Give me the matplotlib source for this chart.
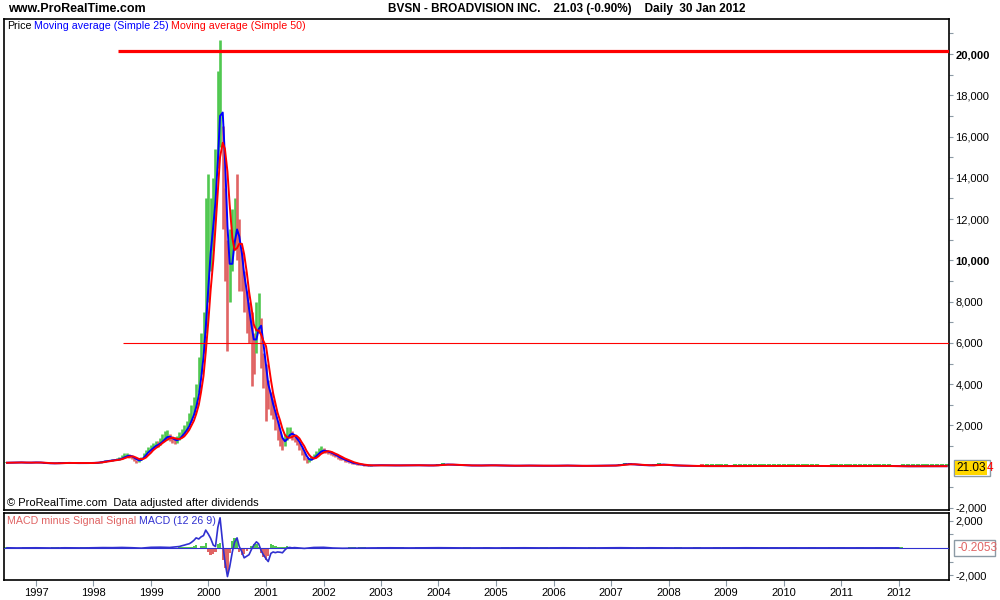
import matplotlib
matplotlib.use('Agg')
import matplotlib.pyplot as plt
import pandas as pd
import numpy as np
from matplotlib.patches import Rectangle
from matplotlib.ticker import FixedLocator, FixedFormatter

plt.rcParams['font.family'] = ['Liberation Sans', 'DejaVu Sans']

# ---------------- DATA ----------------
# monthly 1996-07 .. 1997-12
dates_96 = pd.date_range('1996-07-01', '1997-12-01', freq='MS')
close_96 = [190, 200, 210, 200, 190, 200, 210, 190, 170, 160, 165, 175, 185, 180, 170, 175, 170, 180]
high_96 = [220, 230, 240, 230, 220, 230, 240, 220, 200, 190, 195, 205, 215, 210, 200, 205, 200, 210]
low_96 = [170, 180, 185, 180, 170, 175, 185, 170, 150, 140, 145, 155, 165, 160, 150, 155, 150, 160]

# semi-monthly 1998-01 .. 2002-12
dates_98 = pd.date_range('1998-01-01', '2002-12-15', freq='SMS')
close_98 = [180, 190, 200, 230, 250, 270, 290, 300, 320, 330, 350, 380, 430, 520, 560, 500, 470, 380, 260, 300, 400, 560, 700, 800,
            900, 1000, 1100, 1050, 1200, 1350, 1450, 1500, 1400, 1300, 1250, 1300, 1450, 1600, 1750, 1900, 2200, 2500, 2800, 3300, 4200, 5200, 6500, 8500,
            11000, 11500, 12500, 14500, 17500, 19000, 15000, 11000, 9000, 9500, 11000, 12000, 11500, 10000, 9500, 8500, 7500, 7000, 6000, 5500, 7000, 7500, 6000, 4500,
            4200, 3300, 3000, 2800, 2200, 1800, 1300, 1100, 1300, 1600, 1700, 1500, 1400, 1250, 1000, 800, 500, 300, 300, 400, 500, 600, 750, 800,
            780, 720, 700, 650, 600, 520, 450, 400, 350, 300, 250, 200, 170, 140, 120, 100, 80, 70, 60, 55, 60, 70, 75, 70]
high_98 = [200, 210, 230, 260, 280, 300, 320, 340, 360, 370, 400, 450, 560, 650, 680, 600, 550, 450, 320, 380, 480, 650, 800, 950,
           1050, 1150, 1250, 1250, 1400, 1600, 1750, 1800, 1600, 1500, 1450, 1500, 1700, 1850, 2000, 2200, 2600, 3000, 3400, 4000, 5300, 6500, 7500, 13000,
           14200, 13000, 14000, 15400, 19200, 20700, 16500, 13500, 11000, 11500, 12500, 13000, 14200, 12000, 10500, 9500, 8500, 8000, 7500, 6500, 8000, 8400, 7200, 5500,
           5000, 4200, 3600, 3300, 2700, 2200, 1700, 1400, 1600, 1900, 1900, 1750, 1600, 1450, 1200, 950, 700, 450, 400, 500, 620, 750, 900, 1000,
           900, 820, 780, 740, 680, 600, 530, 470, 410, 360, 300, 250, 210, 175, 150, 125, 100, 90, 80, 75, 80, 90, 95, 90]
low_98 = [160, 170, 180, 200, 220, 240, 260, 270, 290, 300, 320, 340, 380, 450, 480, 420, 380, 280, 200, 240, 330, 450, 600, 700,
          800, 900, 950, 950, 1050, 1200, 1300, 1300, 1250, 1150, 1100, 1150, 1300, 1450, 1600, 1750, 2000, 2200, 2500, 2900, 3600, 4500, 5500, 6500,
          8000, 9500, 10500, 12000, 14500, 15500, 11500, 9000, 5600, 8000, 9500, 10500, 10000, 8500, 8500, 7500, 6500, 6000, 3900, 4500, 5500, 6500, 4800, 3800,
          2200, 2800, 2500, 2300, 1800, 1300, 1000, 800, 1000, 1300, 1450, 1300, 1200, 1050, 800, 550, 300, 200, 220, 300, 400, 480, 600, 680,
          680, 640, 620, 580, 520, 450, 390, 340, 300, 250, 210, 170, 140, 115, 100, 85, 65, 55, 48, 45, 50, 58, 62, 58]

# monthly 2003-01 .. 2012-11
dates_03 = pd.date_range('2003-01-01', '2012-11-01', freq='MS')
close_03 = [70, 65, 60, 60, 65, 70, 75, 70, 65, 60, 60, 62,
            80, 110, 100, 90, 80, 70, 60, 55, 55, 60, 65, 70,
            60, 55, 50, 45, 45, 50, 55, 50, 45, 45, 40, 42,
            45, 50, 55, 50, 45, 40, 38, 40, 42, 45, 48, 50,
            55, 60, 90, 130, 120, 100, 80, 70, 65, 70, 110, 90,
            70, 60, 50, 45, 40, 35, 30, 28, 28, 28, 29, 29,
            29, 28, 29, 30, 30, 31, 31, 32, 32, 33, 33, 34,
            34, 34, 35, 35, 35, 36, 36, 36, 30, 28, 29, 29,
            29, 30, 30, 30, 31, 31, 31, 32, 32, 32, 33, 25,
            21, 21, 22, 22, 22, 23, 23, 23, 24, 24, 24]
high_03 = [100, 95, 90, 90, 95, 100, 105, 100, 95, 90, 90, 92,
           130, 160, 140, 125, 115, 100, 90, 85, 85, 90, 95, 100,
           90, 85, 80, 75, 75, 80, 85, 80, 75, 75, 70, 72,
           75, 80, 85, 80, 75, 70, 68, 70, 72, 75, 78, 80,
           85, 95, 150, 190, 170, 140, 115, 100, 95, 110, 160, 130,
           100, 90, 80, 75, 70, 65, 60, 120, 120, 120, 120, 120,
           120, 60, 120, 120, 120, 120, 120, 120, 120, 120, 120, 120,
           120, 120, 120, 120, 120, 120, 120, 120, 60, 55, 120, 120,
           120, 120, 120, 120, 120, 120, 120, 120, 120, 120, 120, 55,
           50, 120, 120, 120, 120, 120, 120, 120, 120, 120, 120]
low_03 = [55, 50, 45, 45, 50, 55, 60, 55, 50, 45, 45, 48,
          65, 90, 85, 75, 65, 55, 48, 42, 42, 48, 52, 58,
          48, 42, 38, 35, 35, 38, 42, 38, 35, 35, 30, 32,
          35, 38, 42, 38, 35, 30, 28, 30, 32, 35, 38, 40,
          45, 50, 70, 100, 100, 85, 65, 58, 52, 58, 85, 75,
          58, 48, 40, 35, 30, 25, 22, 45, 45, 45, 45, 45,
          45, 20, 45, 45, 45, 45, 45, 45, 45, 45, 45, 45,
          45, 45, 45, 45, 45, 45, 45, 45, 20, 18, 45, 45,
          45, 45, 45, 45, 45, 45, 45, 45, 45, 45, 45, 15,
          15, 45, 45, 45, 45, 45, 45, 45, 45, 45, 45]

# MACD panel
macd_dates_a = pd.date_range('1996-07-01', '1999-05-01', freq='2MS')
macd_line_a = [5, -5, 0, 5, -5, -10, 5, 0, -5, 10, 20, 15, 30, 10, -20, 40, 50, 30]
macd_hist_a = [80, -80, 80, -70, -80, 70, 80, -70, 70, 80, 70, -80, 90, -90, -80, 90, 80, -80]

macd_dates_b = pd.date_range('1999-07-01', '2001-06-15', freq='SMS')
macd_line_b = [100, 150, 200, 250, 300, 400, 550, 730, 650, 800, 900, 1300,
               1000, 700, 200, 100, 1500, 2200, 300, -1000, -2100, -1400, -300, 400,
               730, 100, -300, -730, -600, -500, -100, 200, 440, 300, -200, -500,
               -800, -1000, -400, -300, -350, -300, -320, -360, -150, 0, 30, 0]
macd_hist_b = [50, 60, 40, 60, 70, 100, 150, 180, -60, 120, 150, 360,
               -300, -500, -450, -300, 300, 350, -900, -1500, -1750, -400, 500, 730,
               600, -300, -500, -450, -200, -100, 150, 250, 300, 100, -400, -700,
               -870, -600, 250, 200, 150, 100, 80, 50, 100, 150, 80, 40]

macd_dates_c = pd.date_range('2001-07-01', '2012-01-01', freq='2MS')
macd_line_c = [20, -40, 30,
               40, -10, -30, -20, -15, -5,
               0, 5, 0, -5, 0, 5,
               10, 5, -5, -5, 0, 0,
               -5, 0, 0, 5, 0, -5,
               0, 5, 0, 0, -5, 0,
               5, 10, 0, -5, 5, 0,
               -5, -5, -5, 0, 0, 0,
               0, 0, 5, 0, 0, 0,
               0, 0, 0, -5, 0, 0,
               0, 0, 0, 0, 0, -5,
               0]
macd_hist_c = [80, -90, 80,
               80, -90, -80, 70, 80, -70,
               80, -80, 90, -70, 80, -90,
               90, -80, -70, 80, -80, 70,
               -80, 80, -70, 90, -80, 70,
               80, -80, 70, -90, 80, -70,
               80, 90, -80, 70, -80, 80,
               -70, 80, -80, 90, -70, 80,
               90, -80, 70, -90, 80, 70,
               -80, 80, -70, 80, -90, 80,
               70, -80, 80, -70, 80, -90,
               80]

resistance_level = 20150
resistance_start = '1998-06-05'
support_level = 6000
support_start = '1998-07-05'
last_price_txt = '21.03'
last_macd_txt = '-0.2053'
years = list(range(1997, 2013))

# ---------------- FIGURE ----------------
W, H = 1000, 600
fig = plt.figure(figsize=(10, 6), dpi=100)
fig.patch.set_facecolor('white')


def fx(px):
    return px / W


def fy(py):
    return 1 - py / H


L, R = 4, 949
main_top, main_bot = 19, 510
macd_top, macd_bot = 513, 580
ax = fig.add_axes([fx(L), fy(main_bot), (R - L) / W, (main_bot - main_top) / H])
ax2 = fig.add_axes([fx(L), fy(macd_bot), (R - L) / W, (macd_bot - macd_top) / H], sharex=ax)

GREEN = '#50c850'
SALMON = '#e06464'
GREY = '#8c9aa5'

# price bars
segments = [(dates_96, close_96, high_96, low_96, 2.6),
            (dates_98, close_98, high_98, low_98, 1.9),
            (dates_03, close_03, high_03, low_03, 3.0)]
all_dates = []
all_close = []
for d, c, h, l, lw in segments:
    all_dates.extend(list(d))
    all_close.extend(c)
prev = None
for d, c, h, l, lw in segments:
    cols = []
    for v in c:
        up = True if prev is None else v >= prev
        cols.append(GREEN if up else SALMON)
        prev = v
    ax.vlines(d, l, h, colors=cols, linewidth=lw, zorder=2)

s = pd.Series(all_close, index=pd.DatetimeIndex(all_dates), dtype=float)
ma25 = s.rolling('36D').mean()
ma50 = s.rolling('72D').mean()
ax.plot(ma25.index, ma25.values, color='#0000ff', lw=1.4, zorder=3)
ax.plot(ma50.index, ma50.values, color='#ff0000', lw=1.4, zorder=4)

x0 = pd.Timestamp('1996-06-12')
x1 = pd.Timestamp('2012-11-16')
ax.hlines(resistance_level, pd.Timestamp(resistance_start), x1, color='#ff0000', lw=2.3, zorder=5)
ax.hlines(support_level, pd.Timestamp(support_start), x1, color='#ff0000', lw=0.8, zorder=5)

ax.set_xlim(x0, x1)
ax.set_ylim(-2100, 21700)

# MACD
m_dates = list(macd_dates_a) + list(macd_dates_b) + list(macd_dates_c)
m_line = macd_line_a + macd_line_b + macd_line_c
m_hist = macd_hist_a + macd_hist_b + macd_hist_c
widths = [50] * len(macd_dates_a) + [15] * len(macd_dates_b) + [50] * len(macd_dates_c)
hcols = [GREEN if v >= 0 else SALMON for v in m_hist]
ax2.bar(m_dates, m_hist, width=widths, color=hcols, zorder=2)
ax2.axhline(0, color='#3030d0', lw=0.8, zorder=3)
ax2.plot(m_dates, m_line, color='#3030d0', lw=1.2, zorder=4)
ax2.set_ylim(-2350, 2550)

# axes styling
for a in (ax, ax2):
    a.set_facecolor('white')
    for sp in a.spines.values():
        sp.set_color('black')
        sp.set_linewidth(1.2)
    a.yaxis.tick_right()
    a.tick_params(axis='y', which='major', length=3, width=0.8, color=GREY, labelsize=8, pad=1.5)
    a.tick_params(axis='y', which='minor', length=3, width=0.8, color=GREY)

main_ticks = [-2000, 2000, 4000, 6000, 8000, 10000, 12000, 14000, 16000, 18000, 20000]
ax.yaxis.set_major_locator(FixedLocator(main_ticks))
ax.yaxis.set_major_formatter(FixedFormatter([f"{v:,}" for v in main_ticks]))
ax.yaxis.set_minor_locator(FixedLocator([-1000, 1000, 3000, 5000, 7000, 9000, 11000, 13000, 15000, 17000, 19000, 21000]))
for lab, v in zip(ax.get_yticklabels(), main_ticks):
    if v in (10000, 20000):
        lab.set_fontweight('bold')

macd_ticks = [-2000, 2000]
ax2.yaxis.set_major_locator(FixedLocator(macd_ticks))
ax2.yaxis.set_major_formatter(FixedFormatter([f"{v:,}" for v in macd_ticks]))
ax2.yaxis.set_minor_locator(FixedLocator([-1000, 1000]))

year_ticks = [pd.Timestamp(f'{y}-01-01') for y in years]
ax.tick_params(axis='x', which='both', bottom=False, labelbottom=False)
ax2.set_xticks(year_ticks)
ax2.set_xticklabels([str(y) for y in years])
ax2.tick_params(axis='x', which='major', length=4, width=0.8, color=GREY, labelsize=8, pad=2, direction='out')
ax2.tick_params(axis='x', which='minor', bottom=False)

# texts
fig.text(fx(8), fy(9), 'www.ProRealTime.com', fontsize=9, fontweight='bold', va='center', ha='left')
fig.text(fx(388), fy(9), 'BVSN - BROADVISION INC.    21.03 (-0.90%)    Daily  30 Jan 2012',
         fontsize=8.5, fontweight='bold', va='center', ha='left')

renderer = fig.canvas.get_renderer()


def seq_text(x_px, y_px, parts, size=7.7, gap=2.5):
    x = x_px
    for txt, col in parts:
        t = fig.text(fx(x), fy(y_px), txt, color=col, fontsize=size, va='center', ha='left')
        bb = t.get_window_extent(renderer=renderer)
        x += bb.width + gap


seq_text(7, 26, [('Price', 'black'), ('Moving average (Simple 25)', '#0000ff'), ('Moving average (Simple 50)', '#ff0000')])
seq_text(7, 503, [('\u00a9 ProRealTime.com  Data adjusted after dividends', 'black')], size=8)
seq_text(7, 521, [('MACD minus Signal Signal', SALMON), ('MACD (12 26 9)', '#3030d0')])

# value boxes
t1 = fig.text(fx(956), fy(468), last_price_txt, fontsize=8.5, va='center', ha='left', color='black',
              bbox=dict(boxstyle='square,pad=0.12', facecolor='#ffd700', edgecolor='none'))
bb1 = t1.get_window_extent(renderer=renderer)
fig.text(fx(bb1.x1 + 1.5), fy(468), '4', fontsize=8.5, va='center', ha='left', color='#ff0000')
fig.patches.append(Rectangle((fx(954), fy(476)), 36 / W, 16 / H, transform=fig.transFigure,
                             fill=False, edgecolor=GREY, lw=1.0))
fig.text(fx(957), fy(548), last_macd_txt, fontsize=8.5, va='center', ha='left', color=SALMON)
fig.patches.append(Rectangle((fx(954), fy(556)), 41 / W, 16 / H, transform=fig.transFigure,
                             fill=False, edgecolor=GREY, lw=1.0))

fig.savefig('out.png', dpi=100, facecolor='white')
